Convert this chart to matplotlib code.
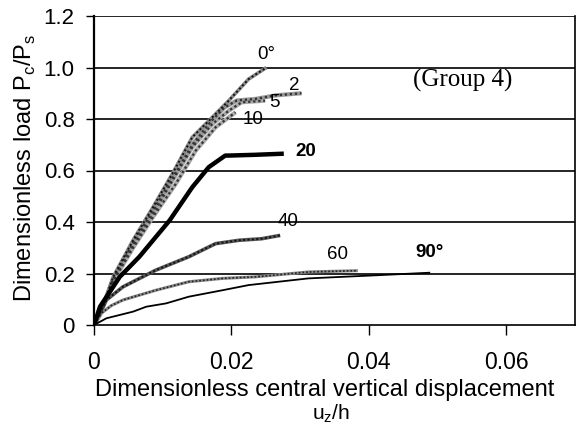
import matplotlib
matplotlib.use("Agg")
import matplotlib.pyplot as plt

plt.rcParams['font.family'] = ['Liberation Sans', 'DejaVu Sans']

# ---- data ----
x_0 = [0, 0.0009, 0.0028, 0.0057, 0.0086, 0.0114, 0.0143, 0.0172, 0.0196, 0.0225, 0.0251]
y_0 = [0, 0.045, 0.187, 0.33, 0.458, 0.587, 0.729, 0.806, 0.871, 0.955, 1.0]

x_2 = [0, 0.0009, 0.0028, 0.0057, 0.0086, 0.0114, 0.0143, 0.0170, 0.0190, 0.0208, 0.0235, 0.0265, 0.0302]
y_2 = [0, 0.045, 0.18, 0.32, 0.445, 0.57, 0.70, 0.79, 0.845, 0.872, 0.878, 0.892, 0.90]

x_5 = [0, 0.0009, 0.0028, 0.0057, 0.0086, 0.0114, 0.0143, 0.0172, 0.0196, 0.0215, 0.0249]
y_5 = [0, 0.043, 0.175, 0.31, 0.43, 0.56, 0.69, 0.78, 0.832, 0.865, 0.871]

x_10 = [0, 0.0009, 0.0028, 0.0057, 0.0086, 0.0119, 0.0148, 0.0177, 0.0196, 0.0206]
y_10 = [0, 0.04, 0.17, 0.30, 0.42, 0.548, 0.677, 0.768, 0.806, 0.826]

x_20 = [0, 0.00087, 0.00375, 0.0066, 0.011, 0.0143, 0.0167, 0.0191, 0.0196, 0.0235, 0.0273]
y_20 = [0, 0.071, 0.187, 0.265, 0.406, 0.535, 0.613, 0.658, 0.658, 0.661, 0.665]

x_40 = [0, 0.0018, 0.0042, 0.009, 0.0138, 0.0177, 0.0211, 0.0244, 0.0271]
y_40 = [0, 0.097, 0.148, 0.213, 0.265, 0.316, 0.329, 0.335, 0.348]

x_60 = [0, 0.0008, 0.0025, 0.0042, 0.009, 0.0138, 0.0187, 0.0235, 0.0312, 0.0384]
y_60 = [0, 0.04, 0.075, 0.097, 0.135, 0.168, 0.181, 0.187, 0.206, 0.211]

x_90 = [0, 0.0018, 0.0057, 0.0076, 0.0105, 0.0138, 0.0187, 0.0225, 0.0312, 0.0418, 0.0488]
y_90 = [0, 0.026, 0.052, 0.071, 0.084, 0.11, 0.135, 0.155, 0.181, 0.194, 0.203]

x_ticks = [0, 0.02, 0.04, 0.06]
x_ticklabels = ['0', '0.02', '0.04', '0.06']
y_ticks = [0, 0.2, 0.4, 0.6, 0.8, 1.0, 1.2]
y_ticklabels = ['0', '0.2', '0.4', '0.6', '0.8', '1.0', '1.2']

labels = [('0°', 0.0250, 1.05, 'normal'), ('2', 0.0291, 0.93, 'normal'),
          ('5', 0.0262, 0.866, 'normal'), ('10', 0.0232, 0.80, 'normal'),
          ('20', 0.0308, 0.672, 'bold'), ('40', 0.0283, 0.40, 'normal'),
          ('60', 0.0355, 0.272, 'normal'), ('90°', 0.0488, 0.283, 'bold')]

# ---- figure ----
fig = plt.figure(figsize=(5.81, 4.37), dpi=100)
ax = fig.add_axes([94/581, 1-325/437, (575-94)/581, (325-16)/437])
ax.set_xlim(0, 0.07)
ax.set_ylim(0, 1.2)

for yv in y_ticks[1:]:
    ax.axhline(yv, color='black', lw=1.2, zorder=1)

def textured(x, y, lw, base, dots):
    ax.plot(x, y, color=base, lw=lw, solid_capstyle='butt', zorder=3)
    ax.plot(x, y, color=dots, lw=lw*0.55, ls=(0, (1, 1.2)), zorder=4)

textured(x_10, y_10, 3.0, '#aaaaaa', '#333333')
textured(x_5, y_5, 3.0, '#aaaaaa', '#333333')
textured(x_2, y_2, 3.0, '#999999', '#333333')
textured(x_0, y_0, 2.6, '#888888', '#111111')
ax.plot(x_20, y_20, color='black', lw=3.2, zorder=5)
textured(x_40, y_40, 2.6, '#555555', '#111111')
textured(x_60, y_60, 2.2, '#888888', '#222222')
ax.plot(x_90, y_90, color='black', lw=1.3, zorder=5)

for txt, xv, yv, w in labels:
    ax.text(xv, yv, txt, fontsize=13.5, fontweight=w, ha='center', va='center', zorder=6)

ax.text(0.0537, 0.951, '(Group 4)', fontsize=18, family=['Liberation Serif', 'DejaVu Serif'],
        ha='center', va='center', zorder=6)

ax.set_xticks(x_ticks)
ax.set_xticklabels(x_ticklabels, fontsize=16.5)
ax.set_yticks(y_ticks)
ax.set_yticklabels(y_ticklabels, fontsize=16)
ax.tick_params(axis='x', direction='out', length=7, width=1, pad=12)
ax.tick_params(axis='y', direction='out', length=6, width=1, pad=8)

ax.spines['top'].set_visible(False)
ax.spines['left'].set_linewidth(1.6)
ax.spines['bottom'].set_linewidth(1.2)
ax.spines['right'].set_linewidth(1.2)

fig.text(325/581, 1-390/437, 'Dimensionless central vertical displacement',
         fontsize=17, ha='center', va='center')
fig.text(331/581, 1-414/437, r'u$_\mathregular{z}$/h', fontsize=15, ha='center', va='center')
fig.text(25/581, 1-168/437, r'Dimensionless load P$_\mathregular{c}$/P$_\mathregular{s}$',
         fontsize=17, ha='center', va='center', rotation=90)

fig.savefig('out.png', dpi=100)
